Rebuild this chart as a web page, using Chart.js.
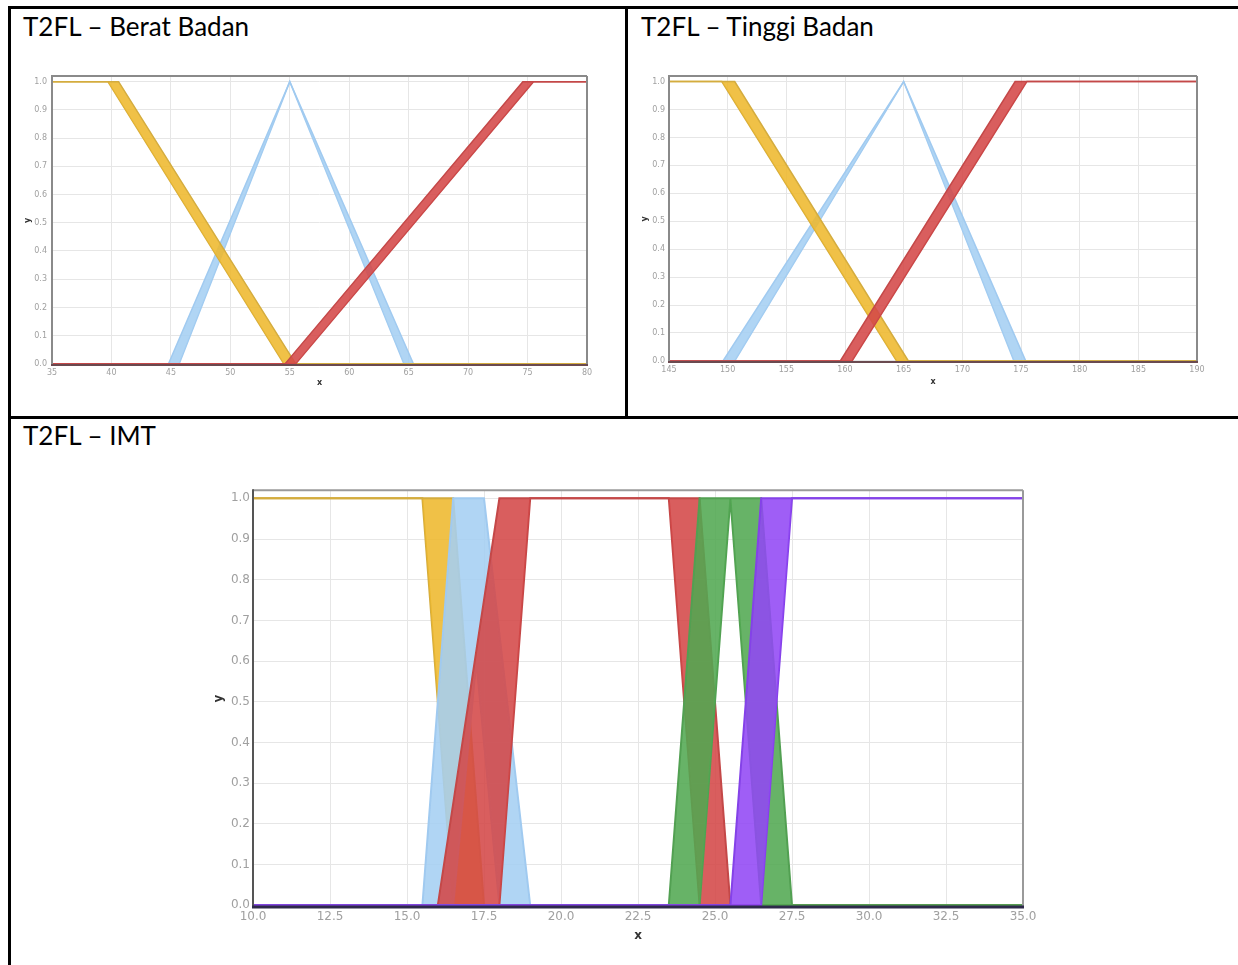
<!DOCTYPE html>
<html>
<head>
<meta charset="utf-8">
<script src="https://cdn.jsdelivr.net/npm/chart.js@4.4.0/dist/chart.umd.min.js"></script>
<style>
html, body { margin: 0; padding: 0; background: #fff; }
body { width: 1238px; height: 965px; position: relative; overflow: hidden; }
.ln { position: absolute; background: #000; }
.ttl { position: absolute; font-family: Lato, "Noto Sans", sans-serif; color: #000; white-space: nowrap; line-height: 1; }
canvas { position: absolute; }
</style>
</head>
<body>
<div class="ln" style="left:8px;top:6px;width:1230px;height:3px"></div>
<div class="ln" style="left:8px;top:6px;width:3px;height:959px"></div>
<div class="ln" style="left:625px;top:6px;width:3px;height:413px"></div>
<div class="ln" style="left:8px;top:416px;width:1230px;height:3px"></div>

<div class="ttl" style="left:23px;top:13px">T2FL – Berat Badan</div>
<div class="ttl" style="left:641px;top:13px">T2FL – Tinggi Badan</div>
<div class="ttl" style="left:23px;top:422px">T2FL – IMT</div>

<canvas id="bb" width="590" height="326" style="left:20px;top:66px"></canvas>
<canvas id="tb" width="602" height="326" style="left:636px;top:66px"></canvas>
<canvas id="imt" width="1038" height="470" style="left:200px;top:480px"></canvas>

<script>
// shared y ticks
const yTicks = [0, 0.1, 0.2, 0.3, 0.4, 0.5, 0.6, 0.7, 0.8, 0.9, 1.0];

// Berat Badan (upper / lower membership functions, [x, y])
const bbTicksX = [35, 40, 45, 50, 55, 60, 65, 70, 75, 80];
const bbKurusUp = [[35, 1], [40.6, 1], [55.5, 0], [80, 0]];
const bbKurusLo = [[35, 1], [39.7, 1], [54.5, 0], [80, 0]];
const bbNormalUp = [[35, 0], [44.8, 0], [55, 1], [65.4, 0], [80, 0]];
const bbNormalLo = [[35, 0], [45.7, 0], [55, 1], [64.6, 0], [80, 0]];
const bbGemukUp = [[35, 0], [54.6, 0], [74.6, 1], [80, 1]];
const bbGemukLo = [[35, 0], [55.5, 0], [75.5, 1], [80, 1]];

// Tinggi Badan
const tbTicksX = [145, 150, 155, 160, 165, 170, 175, 180, 185, 190];
const tbPendekUp = [[145, 1], [150.6, 1], [165.4, 0], [190, 0]];
const tbPendekLo = [[145, 1], [149.5, 1], [164.4, 0], [190, 0]];
const tbSedangUp = [[145, 0], [149.6, 0], [165, 1], [175.4, 0], [190, 0]];
const tbSedangLo = [[145, 0], [150.6, 0], [165, 1], [174.4, 0], [190, 0]];
const tbTinggiUp = [[145, 0], [159.6, 0], [174.5, 1], [190, 1]];
const tbTinggiLo = [[145, 0], [160.6, 0], [175.5, 1], [190, 1]];

// IMT
const imtTicksX = [10, 12.5, 15, 17.5, 20, 22.5, 25, 27.5, 30, 32.5, 35];
const imtSangatKurusUp = [[10, 1], [16.5, 1], [17.5, 0], [35, 0]];
const imtSangatKurusLo = [[10, 1], [15.5, 1], [16.5, 0], [35, 0]];
const imtKurusUp = [[10, 0], [15.5, 0], [16.5, 1], [17.5, 1], [19, 0], [35, 0]];
const imtKurusLo = [[10, 0], [16.5, 0], [17.25, 0.6], [18, 0], [35, 0]];
const imtNormalUp = [[10, 0], [16, 0], [18, 1], [24.5, 1], [25.5, 0], [35, 0]];
const imtNormalLo = [[10, 0], [18, 0], [19, 1], [23.5, 1], [24.5, 0], [35, 0]];
const imtGemukUp = [[10, 0], [23.5, 0], [24.5, 1], [26.5, 1], [27.5, 0], [35, 0]];
const imtGemukLo = [[10, 0], [24.5, 0], [25.5, 1], [26.5, 0], [35, 0]];
const imtObesUp = [[10, 0], [25.5, 0], [26.5, 1], [35, 1]];
const imtObesLo = [[10, 0], [26.5, 0], [27.5, 1], [35, 1]];

const YELLOW = { fill: 'rgba(238,184,45,0.88)', line: 'rgb(212,172,62)' };
const BLUE = { fill: 'rgba(165,207,242,0.88)', line: 'rgb(160,202,240)' };
const RED = { fill: 'rgba(212,72,72,0.88)', line: 'rgb(196,72,72)' };
const GREEN = { fill: 'rgba(82,168,82,0.88)', line: 'rgb(82,160,82)' };
const PURPLE = { fill: 'rgba(146,72,245,0.88)', line: 'rgb(132,66,232)' };

// fit the cell titles to the width seen in the document
(function () {
  const ctx = document.createElement('canvas').getContext('2d');
  ctx.font = '100px Lato, "Noto Sans", sans-serif';
  const w = ctx.measureText('T2FL – Berat Badan').width;
  const size = 100 * 227 / w;
  document.querySelectorAll('.ttl').forEach(el => { el.style.fontSize = size.toFixed(2) + 'px'; });
})();

const framePlugin = {
  id: 'frame',
  afterDatasetsDraw(chart, args, opts) {
    const { ctx, chartArea: a } = chart;
    const side = (x1, y1, x2, y2, c, w) => {
      ctx.beginPath(); ctx.strokeStyle = c; ctx.lineWidth = w;
      ctx.moveTo(x1, y1); ctx.lineTo(x2, y2); ctx.stroke();
    };
    ctx.save();
    side(a.left, a.top, a.right, a.top, opts.top, 2);
    side(a.right, a.top, a.right, a.bottom, opts.top, 2);
    side(a.left, a.top - 1, a.left, a.bottom + 1, opts.left, 2);
    side(a.left - 1, a.bottom, a.right + 1, a.bottom, opts.bottom, opts.bottomWidth);
    ctx.restore();
  }
};

function toPts(arr) { return arr.map(p => ({ x: p[0], y: p[1] })); }

function makeChart(id, cfg) {
  const datasets = [];
  const n = cfg.mfs.length;
  cfg.mfs.forEach((mf, i) => {
    const common = {
      borderColor: mf.col.line, backgroundColor: mf.col.fill, borderWidth: cfg.lw,
      pointRadius: 0, tension: 0, order: n - i
    };
    datasets.push(Object.assign({ data: toPts(mf.up), fill: '+1' }, common));
    datasets.push(Object.assign({ data: toPts(mf.lo), fill: false }, common));
  });
  const tickFont = { family: 'DejaVu Sans', size: cfg.tickSize };
  const titleFont = { family: 'DejaVu Sans', size: cfg.titleSize, weight: 'bold' };
  return new Chart(document.getElementById(id), {
    type: 'line',
    data: { datasets },
    options: {
      responsive: false, animation: false, devicePixelRatio: 1,
      layout: { padding: cfg.pad },
      plugins: { legend: { display: false }, tooltip: { enabled: false }, frame: cfg.frame },
      scales: {
        x: {
          type: 'linear', min: cfg.xTicks[0], max: cfg.xTicks[cfg.xTicks.length - 1],
          afterFit: s => { s.height = cfg.xh; },
          afterBuildTicks: s => { s.ticks = cfg.xTicks.map(v => ({ value: v })); },
          ticks: { font: tickFont, color: '#a0a0a0', padding: cfg.xPad, maxRotation: 0, autoSkip: false, callback: cfg.xFmt },
          grid: { color: '#e6e6e6', drawTicks: false },
          border: { display: false },
          title: { display: true, text: 'x', font: titleFont, color: '#333', padding: { top: 0, bottom: cfg.xTitlePad } }
        },
        y: {
          type: 'linear', min: -0.004, max: 1.02,
          afterFit: s => { s.width = cfg.yw; },
          afterBuildTicks: s => { s.ticks = yTicks.map(v => ({ value: v })); },
          ticks: { font: tickFont, color: '#a0a0a0', padding: cfg.yPad, autoSkip: false, callback: v => v.toFixed(1) },
          grid: { color: '#e6e6e6', drawTicks: false },
          border: { display: false },
          title: { display: true, text: 'y', font: titleFont, color: '#333', padding: { top: cfg.yTitlePad, bottom: 0 } }
        }
      }
    },
    plugins: [framePlugin]
  });
}

makeChart('bb', {
  xTicks: bbTicksX, xFmt: v => String(v),
  mfs: [
    { up: bbNormalUp, lo: bbNormalLo, col: BLUE },
    { up: bbKurusUp, lo: bbKurusLo, col: YELLOW },
    { up: bbGemukUp, lo: bbGemukLo, col: RED }
  ],
  lw: 1.5, tickSize: 8, titleSize: 8,
  pad: { left: 0, top: 10, right: 23, bottom: 0 }, yw: 32, xh: 27,
  xPad: 3, yPad: 5, xTitlePad: 4, yTitlePad: 3,
  frame: { top: '#8a8a8a', left: '#8a8a8a', bottom: '#6a4a50', bottomWidth: 2 }
});

makeChart('tb', {
  xTicks: tbTicksX, xFmt: v => String(v),
  mfs: [
    { up: tbSedangUp, lo: tbSedangLo, col: BLUE },
    { up: tbPendekUp, lo: tbPendekLo, col: YELLOW },
    { up: tbTinggiUp, lo: tbTinggiLo, col: RED }
  ],
  lw: 1.5, tickSize: 8, titleSize: 8,
  pad: { left: 0, top: 10, right: 41, bottom: 0 }, yw: 33, xh: 30,
  xPad: 3, yPad: 4, xTitlePad: 5, yTitlePad: 4,
  frame: { top: '#8a8a8a', left: '#8a8a8a', bottom: '#6a4a50', bottomWidth: 2 }
});

makeChart('imt', {
  xTicks: imtTicksX, xFmt: v => v.toFixed(1),
  mfs: [
    { up: imtSangatKurusUp, lo: imtSangatKurusLo, col: YELLOW },
    { up: imtKurusUp, lo: imtKurusLo, col: BLUE },
    { up: imtNormalUp, lo: imtNormalLo, col: RED },
    { up: imtGemukUp, lo: imtGemukLo, col: GREEN },
    { up: imtObesUp, lo: imtObesLo, col: PURPLE }
  ],
  lw: 2, tickSize: 12, titleSize: 12,
  pad: { left: 0, top: 9, right: 215, bottom: 0 }, yw: 53, xh: 43,
  xPad: 3, yPad: 3, xTitlePad: 7, yTitlePad: 12,
  frame: { top: '#9a9a9a', left: '#555', bottom: '#2e2a4a', bottomWidth: 3 }
});
</script>
</body>
</html>
